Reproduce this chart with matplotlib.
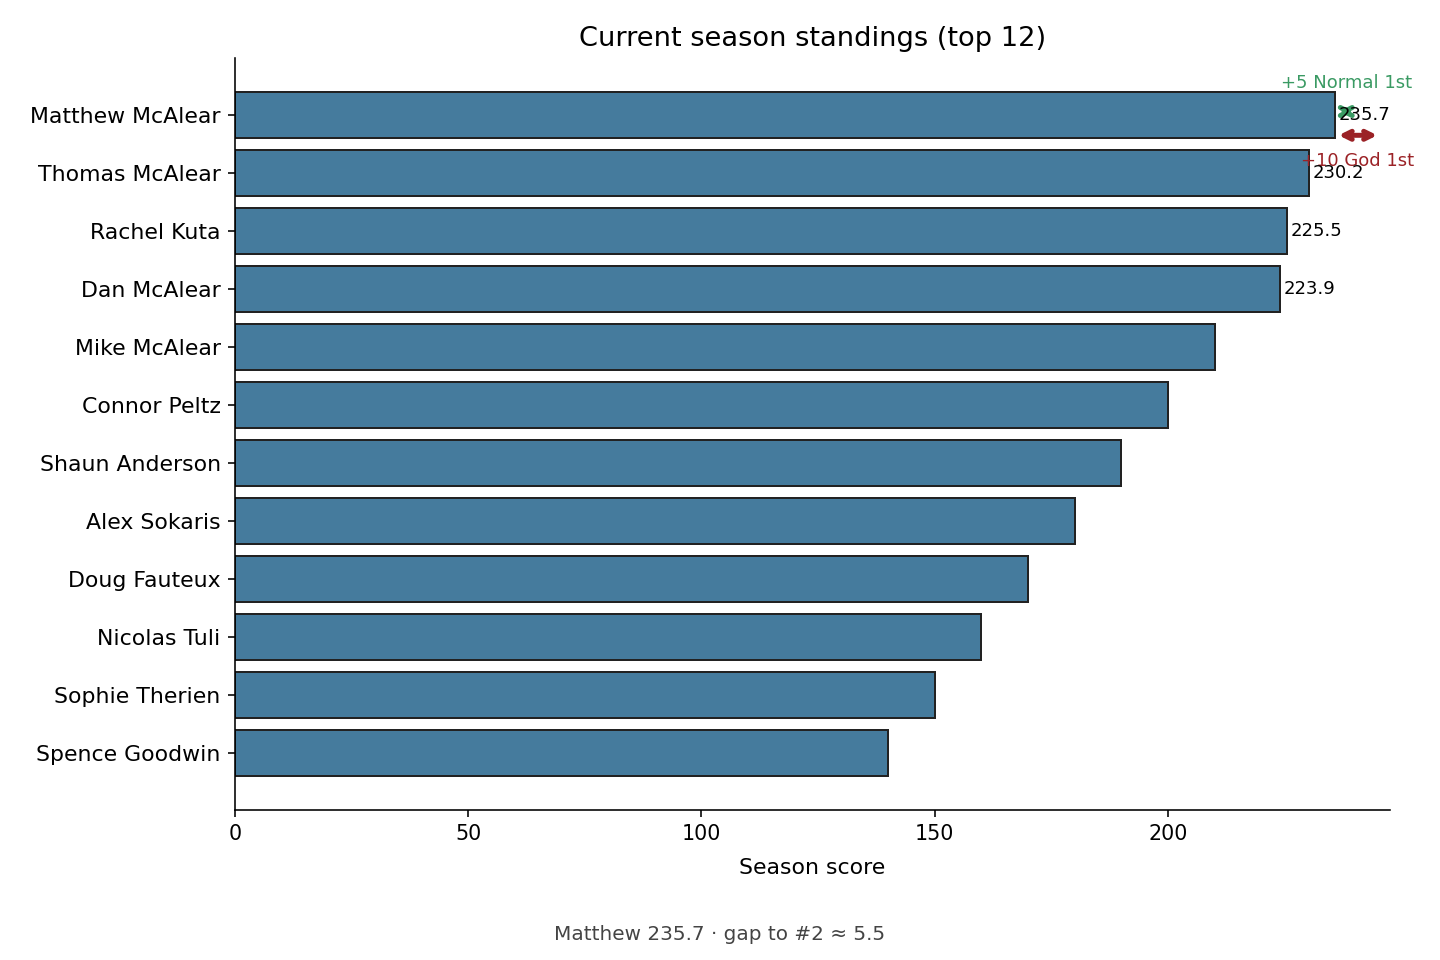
import matplotlib
matplotlib.use("Agg")
import matplotlib.pyplot as plt

# data
players = ["Matthew McAlear", "Thomas McAlear", "Rachel Kuta", "Dan McAlear",
           "Mike McAlear", "Connor Peltz", "Shaun Anderson", "Alex Sokaris",
           "Doug Fauteux", "Nicolas Tuli", "Sophie Therien", "Spence Goodwin"]
scores = [235.7, 230.2, 225.5, 223.9, 210, 200, 190, 180, 170, 160, 150, 140]
n_labeled = 4
normal_bonus = 5
god_bonus = 10

fig, ax = plt.subplots(figsize=(10, 960 / 144), dpi=144)
fig.subplots_adjust(left=0.163, right=0.965, top=0.94, bottom=0.156)

pos = list(range(len(players)))
ax.barh(pos, scores, height=0.8, color="#457b9d", edgecolor="#222222", linewidth=1.0)
ax.set_yticks(pos)
ax.set_yticklabels(players, fontsize=11)
ax.invert_yaxis()
ax.tick_params(axis="x", labelsize=10.3)
ax.set_xlabel("Season score", fontsize=11, labelpad=7)
ax.set_title("Current season standings (top 12)", fontsize=13.6)
ax.spines["top"].set_visible(False)
ax.spines["right"].set_visible(False)

top = scores[0]
# bonus arrows (drawn under the value labels)
ax.annotate("", xy=(top + normal_bonus, -0.06), xytext=(top, -0.06), zorder=2,
            arrowprops=dict(arrowstyle="<->", color="#3a9a63", lw=2.5))
ax.text(top + normal_bonus / 2, -0.55, f"+{normal_bonus} Normal 1st",
        color="#3a9a63", ha="center", va="center", fontsize=9)
ax.annotate("", xy=(top + god_bonus, 0.35), xytext=(top, 0.35), zorder=2,
            arrowprops=dict(arrowstyle="<->", color="#9b2226", lw=2.5))
ax.text(top + god_bonus / 2, 0.8, f"+{god_bonus} God 1st",
        color="#9b2226", ha="center", va="center", fontsize=9)

for i in range(n_labeled):
    ax.annotate(f"{scores[i]:.1f}", (scores[i], pos[i]), xytext=(2, 0),
                textcoords="offset points", va="center", fontsize=9, zorder=4)

gap = scores[0] - scores[1]
fig.text(0.5, 0.027, f"Matthew {top:.1f} · gap to #2 ≈ {gap:.1f}",
         ha="center", va="center", fontsize=10, color="#444444")

fig.savefig("out.png", dpi=144)
